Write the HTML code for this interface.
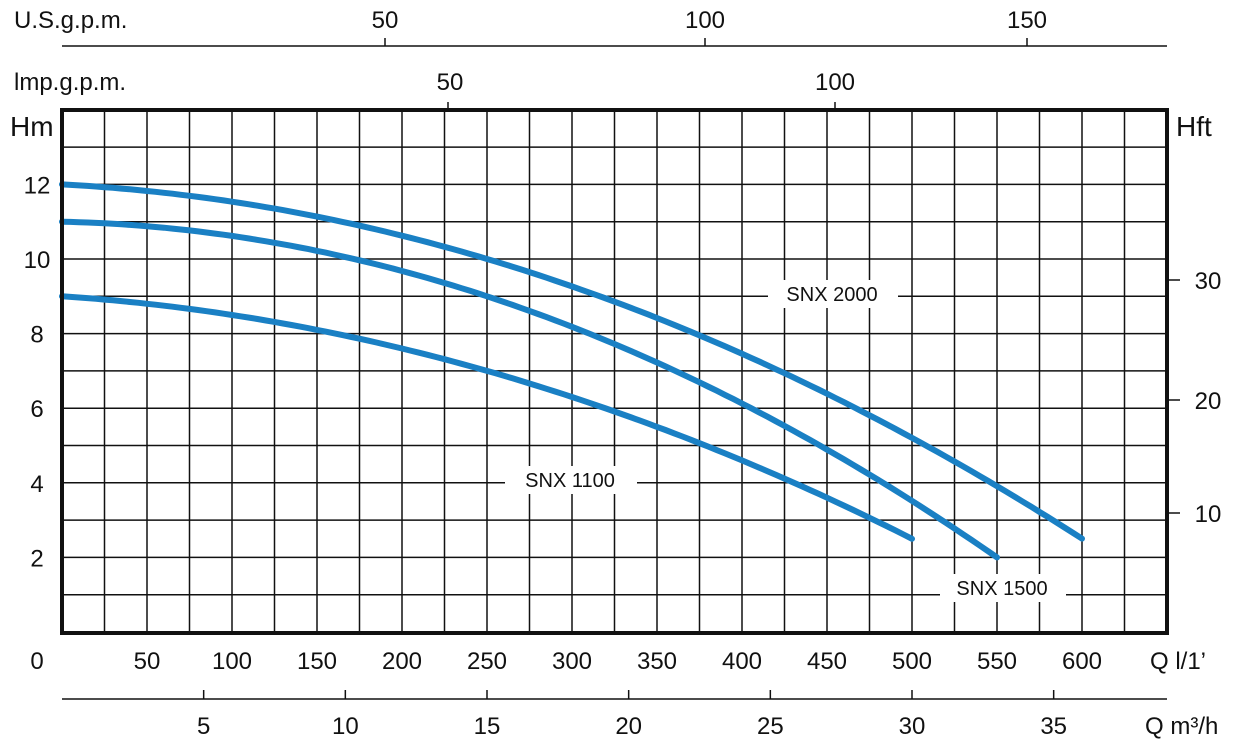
<!DOCTYPE html>
<html><head><meta charset="utf-8"><style>
html,body{margin:0;padding:0;background:#fff;}
svg text{font-family:"Liberation Sans",sans-serif;fill:#111;}
</style></head><body>
<svg id="s" width="1250" height="747" xmlns="http://www.w3.org/2000/svg">
<g id="grid" stroke="#111" stroke-width="1.5"></g>
<g id="curves" fill="none" stroke="#1a80c4" stroke-width="6" stroke-linecap="round"></g>
<rect x="768" y="280" width="130" height="28" fill="#fff"/>
<rect x="505" y="466" width="132" height="28" fill="#fff"/>
<rect x="940" y="574" width="126" height="28" fill="#fff"/>
<g font-size="20">
<text x="832" y="301" text-anchor="middle">SNX 2000</text>
<text x="570" y="487" text-anchor="middle">SNX 1100</text>
<text x="1002" y="595" text-anchor="middle">SNX 1500</text>
</g>
<rect x="62" y="110" width="1105" height="523" fill="none" stroke="#111" stroke-width="4"/>
<g stroke="#111" stroke-width="1.5">
<line x1="62" y1="46" x2="1167" y2="46"/>
<line x1="385" y1="38" x2="385" y2="46"/><line x1="705" y1="38" x2="705" y2="46"/><line x1="1027" y1="38" x2="1027" y2="46"/>
<line x1="448" y1="102" x2="448" y2="110"/><line x1="835" y1="102" x2="835" y2="110"/>
<line x1="62" y1="699" x2="1167" y2="699"/>
<line x1="1167" y1="513" x2="1180" y2="513"/><line x1="1167" y1="400" x2="1180" y2="400"/><line x1="1167" y1="280" x2="1180" y2="280"/>
</g>
<g id="bt" stroke="#111" stroke-width="1.5"></g>
<g font-size="24" id="labels">
<text x="14" y="28">U.S.g.p.m.</text>
<text x="385" y="28" text-anchor="middle">50</text>
<text x="705" y="28" text-anchor="middle">100</text>
<text x="1027" y="28" text-anchor="middle">150</text>
<text x="14" y="90">lmp.g.p.m.</text>
<text x="450" y="90" text-anchor="middle">50</text>
<text x="835" y="90" text-anchor="middle">100</text>
<text x="10" y="136" font-size="28">Hm</text>
<text x="1176" y="136" font-size="28">Hft</text>
<text x="1208" y="522" text-anchor="middle">10</text>
<text x="1208" y="409" text-anchor="middle">20</text>
<text x="1208" y="289" text-anchor="middle">30</text>
<text x="1150" y="669">Q  l/1’</text>
<text x="1145" y="734">Q  m³/h</text>
</g>
</svg>
<script>
var ns="http://www.w3.org/2000/svg";
function el(p,t,a,txt){var e=document.createElementNS(ns,t);for(var k in a)e.setAttribute(k,a[k]);if(txt!==undefined)e.textContent=txt;document.getElementById(p).appendChild(e);return e;}
function X(q){return 62+q*1.7;}
function Y(h){return 632-h*37.3;}
for(var i=1;i<26;i++){el("grid","line",{x1:X(i*25),y1:110,x2:X(i*25),y2:633});}
for(var j=1;j<14;j++){el("grid","line",{x1:62,y1:Y(j),x2:1167,y2:Y(j)});}
for(var q=0;q<=600;q+=50){el("labels","text",{x:q==0?37:X(q),y:669,"text-anchor":"middle"},String(q));}
for(var h=2;h<=12;h+=2){el("labels","text",{x:37,y:Y(h)+9,"text-anchor":"middle"},String(h));}
for(var m=5;m<=35;m+=5){var x=X(m*1000/60);el("bt","line",{x1:x,y1:690,x2:x,y2:699});el("labels","text",{x:x,y:734,"text-anchor":"middle"},String(m));}
function curve(H0,a,b,qm){var d="";for(var q=0;q<=qm;q+=5){var h=H0-a*q-b*q*q;d+=(q?"L":"M")+X(q).toFixed(1)+","+Y(h).toFixed(1);}el("curves","path",{d:d});}
curve(12,0.0024,2.238e-5,600);
curve(11,0.00103,2.788e-5,550);
curve(9,0.003,2e-5,500);
</script>
</body></html>
